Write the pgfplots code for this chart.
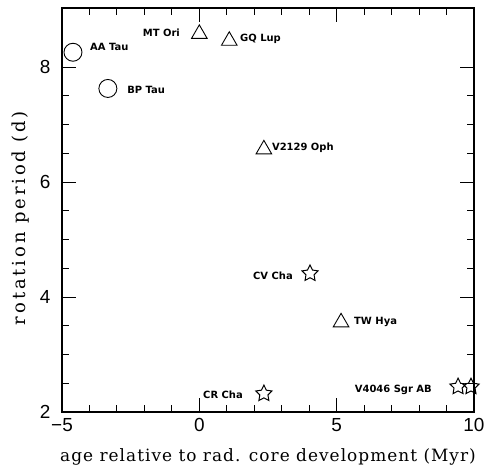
\documentclass[border=0pt]{standalone}
\usepackage{pgfplots}
\pgfplotsset{compat=1.18}
\usepackage{fontspec}
\setmainfont{DejaVu Serif}[LetterSpace=6]
\newfontfamily\ylabfont{DejaVu Serif}[LetterSpace=16]
\newfontfamily\tickfont{Liberation Sans}
\newfontfamily\labfont{DejaVu Sans}
\pgfdeclareplotmark{ostar}{%
  \pgfpathmoveto{\pgfpointpolar{90}{\pgfplotmarksize}}%
  \pgfpathlineto{\pgfpointpolar{126}{0.5\pgfplotmarksize}}%
  \pgfpathlineto{\pgfpointpolar{162}{\pgfplotmarksize}}%
  \pgfpathlineto{\pgfpointpolar{198}{0.5\pgfplotmarksize}}%
  \pgfpathlineto{\pgfpointpolar{234}{\pgfplotmarksize}}%
  \pgfpathlineto{\pgfpointpolar{270}{0.5\pgfplotmarksize}}%
  \pgfpathlineto{\pgfpointpolar{306}{\pgfplotmarksize}}%
  \pgfpathlineto{\pgfpointpolar{342}{0.5\pgfplotmarksize}}%
  \pgfpathlineto{\pgfpointpolar{18}{\pgfplotmarksize}}%
  \pgfpathlineto{\pgfpointpolar{54}{0.5\pgfplotmarksize}}%
  \pgfpathclose\pgfusepathqstroke}
\begin{document}
\begin{tikzpicture}
\begin{axis}[
  scale only axis, width=412bp, height=404bp,
  xmin=-5, xmax=10, ymin=2, ymax=9.03,
  xtick={-5,0,5,10}, xticklabels={−5,0,5,10},
  ytick={2,4,6,8},
  minor x tick num=4, minor y tick num=3,
  tick align=inside,
  major tick length=14bp, minor tick length=7bp,
  tick style={line width=1pt, black},
  axis line style={line width=1.2pt},
  ticklabel style={font=\tickfont\fontsize{19}{19}\selectfont},
  xticklabel style={yshift=-3bp},
  yticklabel style={xshift=-8bp},
  /pgf/number format/assume math mode=true,
  xlabel={age relative to rad. core development (Myr)},
  ylabel={rotation period (d)},
  every axis x label/.style={at={(axis description cs:0.5,0)}, anchor=center, yshift=-45bp, font=\fontsize{17}{17}\selectfont},
  every axis y label/.style={at={(axis description cs:0,0.5)}, xshift=-41bp, yshift=-8bp, anchor=center, rotate=90, font=\ylabfont\fontsize{18}{18}\selectfont},
]
\addplot[only marks, mark=o, mark size=9bp, line width=0.9pt] coordinates {(-4.6,8.26) (-3.33,7.63)};
\addplot[only marks, mark=triangle, mark size=9bp, line width=0.9pt] coordinates {(0,8.58) (1.09,8.46) (2.35,6.57) (5.16,3.56)};
\addplot[only marks, mark=ostar, mark size=8.5bp, line width=1pt] coordinates {(4.03,4.41) (2.35,2.32) (9.42,2.44) (9.89,2.44)};
\tikzset{lab/.style={font=\labfont\bfseries\fontsize{10}{10}\selectfont, inner sep=0pt}}
\node[lab, anchor=west] at (axis cs:-3.98,8.35) {AA Tau};
\node[lab, anchor=west] at (axis cs:-2.63,7.60) {BP Tau};
\node[lab, anchor=east] at (axis cs:-0.70,8.60) {MT Ori};
\node[lab, anchor=west] at (axis cs:1.48,8.50) {GQ Lup};
\node[lab, anchor=west] at (axis cs:2.64,6.60) {V2129 Oph};
\node[lab, anchor=east] at (axis cs:3.41,4.37) {CV Cha};
\node[lab, anchor=west] at (axis cs:5.63,3.57) {TW Hya};
\node[lab, anchor=east] at (axis cs:1.59,2.30) {CR Cha};
\node[lab, anchor=east] at (axis cs:8.47,2.39) {V4046 Sgr AB};
\coordinate (sw) at (rel axis cs:0,0);
\coordinate (ne) at (rel axis cs:1,1);
\end{axis}
\pgfresetboundingbox
\path ([shift={(-62bp,-56bp)}]sw) rectangle ([shift={(14bp,8bp)}]ne);
\end{tikzpicture}
\end{document}
